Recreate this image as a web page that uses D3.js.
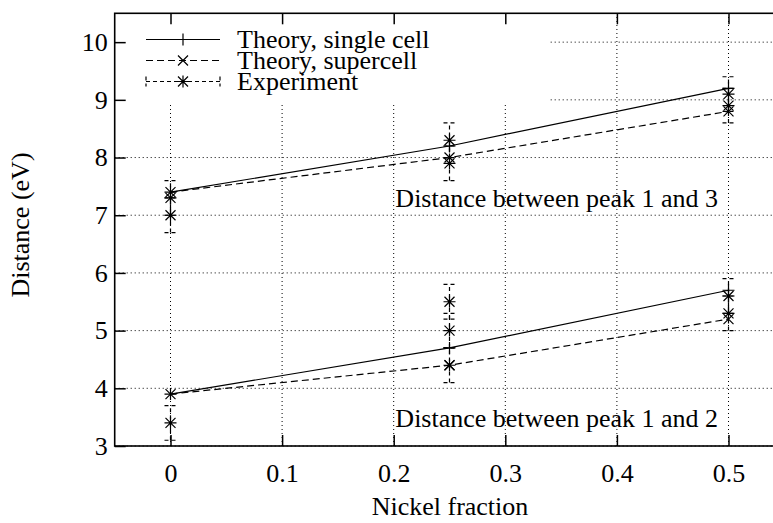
<!DOCTYPE html>
<html>
<head>
<meta charset="utf-8">
<script src="https://cdn.jsdelivr.net/npm/d3@7"></script>
<style>
  html, body { margin: 0; padding: 0; background: #fff; }
  svg { display: block; }
  text { font-family: "Liberation Serif", "Times New Roman", serif; fill: #000; }
</style>
</head>
<body>
<svg id="chart" width="773" height="523"></svg>
<script>
// Nickel fraction of the samples
const fraction = [0, 0.25, 0.5];

// Theory, single cell (eV)
const singleCell13 = [7.4, 8.2, 9.2];
const singleCell12 = [3.9, 4.7, 5.7];

// Theory, supercell (eV)
const supercell13 = [7.4, 8.0, 8.8];
const supercell12 = [3.9, 4.4, 5.2];

// Experiment: measured peak distances with their uncertainty (eV)
const expFraction = [0, 0, 0, 0.25, 0.25, 0.25, 0.25, 0.25, 0.5, 0.5, 0.5, 0.5];
const expDistance = [7.3, 7.0, 3.4, 8.3, 7.9, 5.5, 5.0, 4.4, 9.1, 8.9, 5.6, 5.3];
const expError    = [0.3, 0.3, 0.3, 0.3, 0.3, 0.3, 0.3, 0.3, 0.3, 0.3, 0.3, 0.3];

const xTicks = [0, 0.1, 0.2, 0.3, 0.4, 0.5];
const yTicks = [3, 4, 5, 6, 7, 8, 9, 10];

const legendLabels = ["Theory, single cell", "Theory, supercell", "Experiment"];

const FONT = 26;
const svg = d3.select("#chart");

const x = d3.scaleLinear().domain([-0.05, 0.55]).range([114.7, 784.3]);
const y = d3.scaleLinear().domain([3, 10.5]).range([446, 13.3]);

const [x0, x1] = x.range();
const [yb, yt] = y.range();

// dotted grid
const grid = svg.append("g")
  .attr("stroke", "#000").attr("stroke-width", 1).attr("stroke-dasharray", "1,3");
grid.selectAll("line.v").data(xTicks).join("line").attr("class", "v")
  .attr("x1", d => x(d)).attr("x2", d => x(d)).attr("y1", yb).attr("y2", yt);
grid.selectAll("line.h").data(yTicks).join("line").attr("class", "h")
  .attr("x1", x0).attr("x2", x1).attr("y1", d => y(d)).attr("y2", d => y(d));

// opaque key background
const keyBox = { left: 115, right: 548, top: yt, bottom: 102 };
svg.append("rect")
  .attr("x", keyBox.left).attr("y", keyBox.top)
  .attr("width", keyBox.right - keyBox.left).attr("height", keyBox.bottom - keyBox.top)
  .attr("fill", "#fff");

// axes with inward ticks, mirrored on top and right
function styleAxis(g, showText) {
  g.attr("font-family", null).attr("font-size", null);
  g.select(".domain").remove();
  g.selectAll(".tick line").attr("stroke", "#000").attr("stroke-width", 1.5);
  g.selectAll(".tick text").attr("font-size", FONT);
  if (!showText) g.selectAll(".tick text").remove();
}

svg.append("g").attr("transform", `translate(0,${yb})`)
  .call(d3.axisBottom(x).tickValues(xTicks).tickFormat(d => String(d)).tickSize(-11).tickPadding(18))
  .call(g => styleAxis(g, true));
svg.append("g").attr("transform", `translate(0,${yt})`)
  .call(d3.axisTop(x).tickValues(xTicks).tickSize(-11))
  .call(g => styleAxis(g, false));
svg.append("g").attr("transform", `translate(${x0},0)`)
  .call(d3.axisLeft(y).tickValues(yTicks).tickFormat(d => String(d)).tickSize(-11).tickPadding(7))
  .call(g => styleAxis(g, true));
svg.append("g").attr("transform", `translate(${x1},0)`)
  .call(d3.axisRight(y).tickValues(yTicks).tickSize(-11))
  .call(g => styleAxis(g, false));

svg.append("rect")
  .attr("x", x0).attr("y", yt).attr("width", x1 - x0).attr("height", yb - yt)
  .attr("fill", "none").attr("stroke", "#000").attr("stroke-width", 1.6);

// point symbols
const plusPath = "M-6,0H6M0,-6V6";
const crossPath = "M-5,-5L5,5M-5,5L5,-5";
const starPath = plusPath + crossPath;

const line = d3.line().x(d => x(d[0])).y(d => y(d[1]));
const plot = svg.append("g");

function theory(values, dash, symbol) {
  const pts = fraction.map((f, i) => [f, values[i]]);
  plot.append("path").datum(pts).attr("d", line)
    .attr("fill", "none").attr("stroke", "#000").attr("stroke-width", 1.2)
    .attr("stroke-dasharray", dash);
  plot.selectAll(null).data(pts).join("path")
    .attr("transform", d => `translate(${x(d[0])},${y(d[1])})`)
    .attr("d", symbol).attr("fill", "none").attr("stroke", "#000").attr("stroke-width", 1.2);
}

theory(singleCell13, null, plusPath);
theory(singleCell12, null, plusPath);
theory(supercell13, "7,4", crossPath);
theory(supercell12, "7,4", crossPath);

// experimental points with dashed error bars
const expData = expFraction.map((f, i) => ({ f, v: expDistance[i], e: expError[i] }));
const bars = plot.append("g").attr("stroke", "#000").attr("stroke-width", 1.2)
  .attr("stroke-dasharray", "4,3").attr("fill", "none");
bars.selectAll("line.bar").data(expData).join("line").attr("class", "bar")
  .attr("x1", d => x(d.f)).attr("x2", d => x(d.f))
  .attr("y1", d => y(d.v - d.e)).attr("y2", d => y(d.v + d.e));
bars.selectAll("line.tlo").data(expData).join("line").attr("class", "tlo")
  .attr("x1", d => x(d.f) - 6).attr("x2", d => x(d.f) + 6)
  .attr("y1", d => y(d.v - d.e)).attr("y2", d => y(d.v - d.e));
bars.selectAll("line.thi").data(expData).join("line").attr("class", "thi")
  .attr("x1", d => x(d.f) - 6).attr("x2", d => x(d.f) + 6)
  .attr("y1", d => y(d.v + d.e)).attr("y2", d => y(d.v + d.e));
plot.selectAll("path.exp").data(expData).join("path").attr("class", "exp")
  .attr("transform", d => `translate(${x(d.f)},${y(d.v)})`)
  .attr("d", starPath).attr("fill", "none").attr("stroke", "#000").attr("stroke-width", 1.2);

// annotations
svg.append("text").attr("x", x(0.2015)).attr("y", y(7.15))
  .attr("font-size", FONT).text("Distance between peak 1 and 3");
svg.append("text").attr("x", x(0.2015)).attr("y", y(3.33))
  .attr("font-size", FONT).text("Distance between peak 1 and 2");

// axis titles
svg.append("text").attr("x", 450).attr("y", 515).attr("text-anchor", "middle")
  .attr("font-size", FONT).text("Nickel fraction");
svg.append("text").attr("transform", "translate(29,225) rotate(-90)")
  .attr("text-anchor", "middle").attr("font-size", FONT).text("Distance (eV)");

// key
const key = svg.append("g");
const rowY = [39.5, 60.5, 81.5];
const sx0 = 146, sx1 = 220, sxm = 183, tx = 237;
const keyDash = [null, "7,4", "4,3"];
const keySym = [plusPath, crossPath, starPath];
legendLabels.forEach((label, i) => {
  const ry = rowY[i];
  key.append("line").attr("x1", sx0).attr("x2", sx1).attr("y1", ry).attr("y2", ry)
    .attr("stroke", "#000").attr("stroke-width", 1.2).attr("stroke-dasharray", keyDash[i]);
  if (i === 2) {
    [sx0, sx1].forEach(sx => key.append("line")
      .attr("x1", sx).attr("x2", sx).attr("y1", ry - 5).attr("y2", ry + 5)
      .attr("stroke", "#000").attr("stroke-width", 1.2).attr("stroke-dasharray", "4,3"));
  }
  key.append("path").attr("transform", `translate(${sxm},${ry})`).attr("d", keySym[i])
    .attr("fill", "none").attr("stroke", "#000").attr("stroke-width", 1.2);
  key.append("text").attr("x", tx).attr("y", ry).attr("dy", "0.32em")
    .attr("font-size", FONT).text(label);
});
</script>
</body>
</html>
